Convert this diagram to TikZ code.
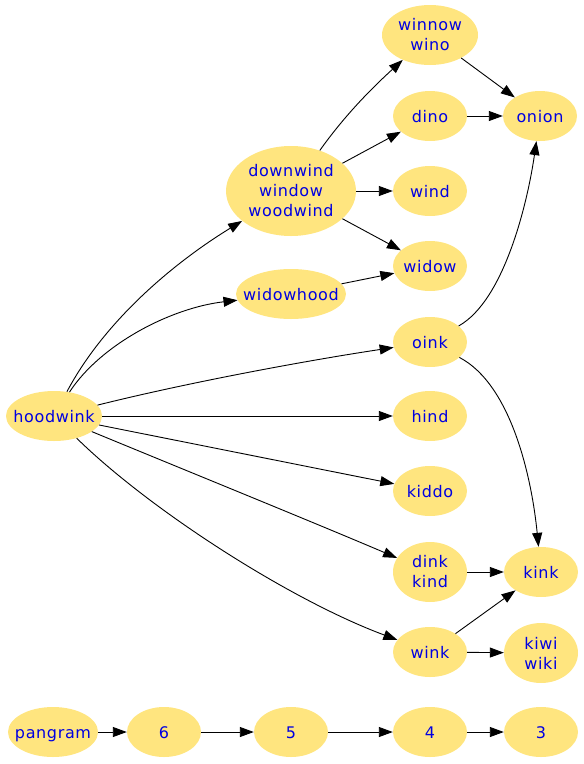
\documentclass[tikz,border=0pt]{standalone}
\usepackage{fontspec}
\setmainfont{DejaVu Sans}[LetterSpace=4]
\usetikzlibrary{arrows.meta,shapes.geometric}
\definecolor{nodefill}{RGB}{255,229,127}
\definecolor{nodetext}{RGB}{0,0,225}
\tikzset{
  nd/.style={ellipse, fill=nodefill, draw=none, inner sep=0pt,
    minimum width=74pt, minimum height=50pt},
  tall/.style={minimum height=60pt},
  txt/.style={text=nodetext, align=center, inner sep=0pt,
    font=\fontsize{16}{20}\selectfont},
  one/.style={txt, text height=12pt, text depth=0pt},
  edge/.style={line width=0.9pt, draw=black, -{Triangle[length=14pt,width=10pt]}},
}
\begin{document}
\begin{tikzpicture}[x=1pt,y=-1pt]
\useasboundingbox (0,0) rectangle (584,764);
% nodes
\node[nd,tall,minimum width=96pt,label={[txt]center:winnow\\wino}] (winnow) at (430,35) {};
\node[nd,label={[one]center:dino}] (dino) at (430,116) {};
\node[nd,label={[one]center:onion}] (onion) at (540,116) {};
\node[nd,minimum width=130pt,minimum height=90pt,label={[txt]center:downwind\\window\\woodwind}] (downwind) at (291,191) {};
\node[nd,label={[one]center:wind}] (wind) at (430,191) {};
\node[nd,label={[one]center:widow}] (widow) at (430,266) {};
\node[nd,minimum width=110pt,label={[one]center:widowhood}] (widowhood) at (291,294) {};
\node[nd,label={[one]center:oink}] (oink) at (430,342) {};
\node[nd,minimum width=96pt,label={[one]center:hoodwink}] (hoodwink) at (54,416) {};
\node[nd,label={[one]center:hind}] (hind) at (430,416) {};
\node[nd,label={[one]center:kiddo}] (kiddo) at (430,491) {};
\node[nd,tall,label={[txt]center:dink\\kind}] (dink) at (430,572) {};
\node[nd,label={[one]center:kink}] (kink) at (541,572) {};
\node[nd,label={[one]center:wink}] (wink) at (430,652) {};
\node[nd,tall,label={[txt]center:kiwi\\wiki}] (kiwi) at (541,653) {};
\node[nd,minimum width=90pt,label={[one]center:pangram}] (pangram) at (53,732) {};
\node[nd,label={[one]center:6}] (n6) at (164,732) {};
\node[nd,label={[one]center:5}] (n5) at (291,732) {};
\node[nd,label={[one]center:4}] (n4) at (430,732) {};
\node[nd,label={[one]center:3}] (n3) at (541,732) {};
% edges from hoodwink
\draw[edge] (hoodwink) .. controls (105,320) and (175,262) .. (downwind);
\draw[edge] (hoodwink) .. controls (100,345) and (170,308) .. (widowhood);
\draw[edge] (hoodwink) .. controls (190,382) and (310,360) .. (oink);
\draw[edge] (hoodwink) -- (hind);
\draw[edge] (hoodwink) -- (kiddo);
\draw[edge] (hoodwink) .. controls (180,468) and (320,525) .. (dink);
\draw[edge] (hoodwink) .. controls (150,510) and (290,600) .. (wink);
% edges from downwind
\draw[edge] (downwind) .. controls (345,115) and (372,88) .. (winnow);
\draw[edge] (downwind) -- (dino);
\draw[edge] (downwind) -- (wind);
\draw[edge] (downwind) -- (widow);
\draw[edge] (widowhood) -- (widow);
% to onion
\draw[edge] (winnow) -- (onion);
\draw[edge] (dino) -- (onion);
\draw[edge] (oink) .. controls (505,300) and (528,200) .. (onion);
% to kink
\draw[edge] (oink) .. controls (512,385) and (532,480) .. (kink);
\draw[edge] (dink) -- (kink);
\draw[edge] (wink) -- (kink);
\draw[edge] (wink) -- (kiwi);
% bottom chain
\draw[edge] (pangram) -- (n6);
\draw[edge] (n6) -- (n5);
\draw[edge] (n5) -- (n4);
\draw[edge] (n4) -- (n3);
\end{tikzpicture}
\end{document}
